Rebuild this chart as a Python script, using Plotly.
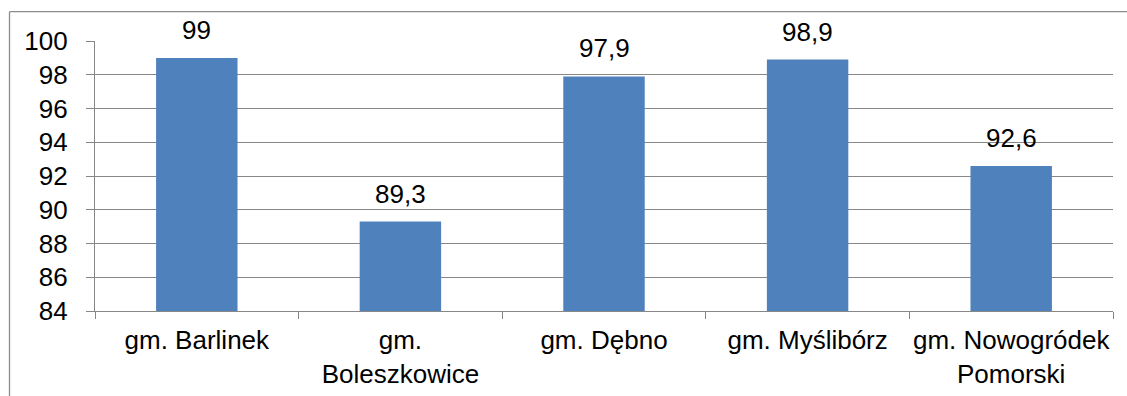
import plotly.graph_objects as go

# Share of population (%) by municipality
categories = ["gm. Barlinek", "gm.<br>Boleszkowice", "gm. Dębno", "gm. Myślibórz", "gm. Nowogródek<br>Pomorski"]
values = [99, 89.3, 97.9, 98.9, 92.6]
y_ticks = [84, 86, 88, 90, 92, 94, 96, 98, 100]

def fmt(v):
    s = f"{v:.1f}"
    if s.endswith(".0"):
        s = s[:-2]
    return s.replace(".", ",")

W, H = 1127, 396
ML, MR, MT, MB = 95, 14, 41, 85
FONT = "Liberation Sans, Arial, sans-serif"
FS = 26
GRID = "#878787"

fig = go.Figure(
    go.Bar(
        x=categories,
        y=values,
        marker=dict(color="#4F81BD", line=dict(width=0)),
        hoverinfo="skip",
    )
)

for c, v in zip(categories, values):
    fig.add_annotation(
        x=c, y=v, text=fmt(v), showarrow=False,
        yanchor="bottom", yshift=11,
        font=dict(family=FONT, size=FS, color="#000000"),
    )

# outer chart frame (runs past the right and bottom edges)
pw, ph = W - ML - MR, H - MT - MB
fx0 = (9.5 - ML) / pw
fy1 = 1 + (MT - 11.7) / ph
fig.add_shape(type="line", xref="paper", yref="paper", x0=fx0, x1=fx0, y0=-1, y1=fy1,
              line=dict(color="#8c8c8c", width=1.3))
fig.add_shape(type="line", xref="paper", yref="paper", x0=fx0, x1=2, y0=fy1, y1=fy1,
              line=dict(color="#8c8c8c", width=1.3))

fig.update_layout(
    width=W, height=H,
    margin=dict(l=ML, r=MR, t=MT, b=MB, autoexpand=False),
    paper_bgcolor="white", plot_bgcolor="white",
    bargap=0.6,
    showlegend=False,
    font=dict(family=FONT, size=FS, color="#000000"),
)
fig.update_xaxes(
    type="category",
    showline=True, linecolor=GRID, linewidth=1.3,
    ticks="outside", tickson="boundaries", ticklen=7, tickcolor=GRID, tickwidth=1.3,
    ticklabelstandoff=6, tickangle=0, automargin=False,
    showgrid=False,
    tickfont=dict(family=FONT, size=FS, color="#000000"),
)
fig.update_yaxes(
    range=[84, 100], tickvals=y_ticks, ticktext=[str(t) for t in y_ticks],
    showline=True, linecolor=GRID, linewidth=1.3,
    ticks="outside", ticklen=8, tickcolor=GRID, tickwidth=1.3,
    ticklabelstandoff=13, automargin=False,
    showgrid=True, gridcolor=GRID, gridwidth=1.3,
    zeroline=False,
    tickfont=dict(family=FONT, size=FS, color="#000000"),
)

fig.write_html("out.html")
